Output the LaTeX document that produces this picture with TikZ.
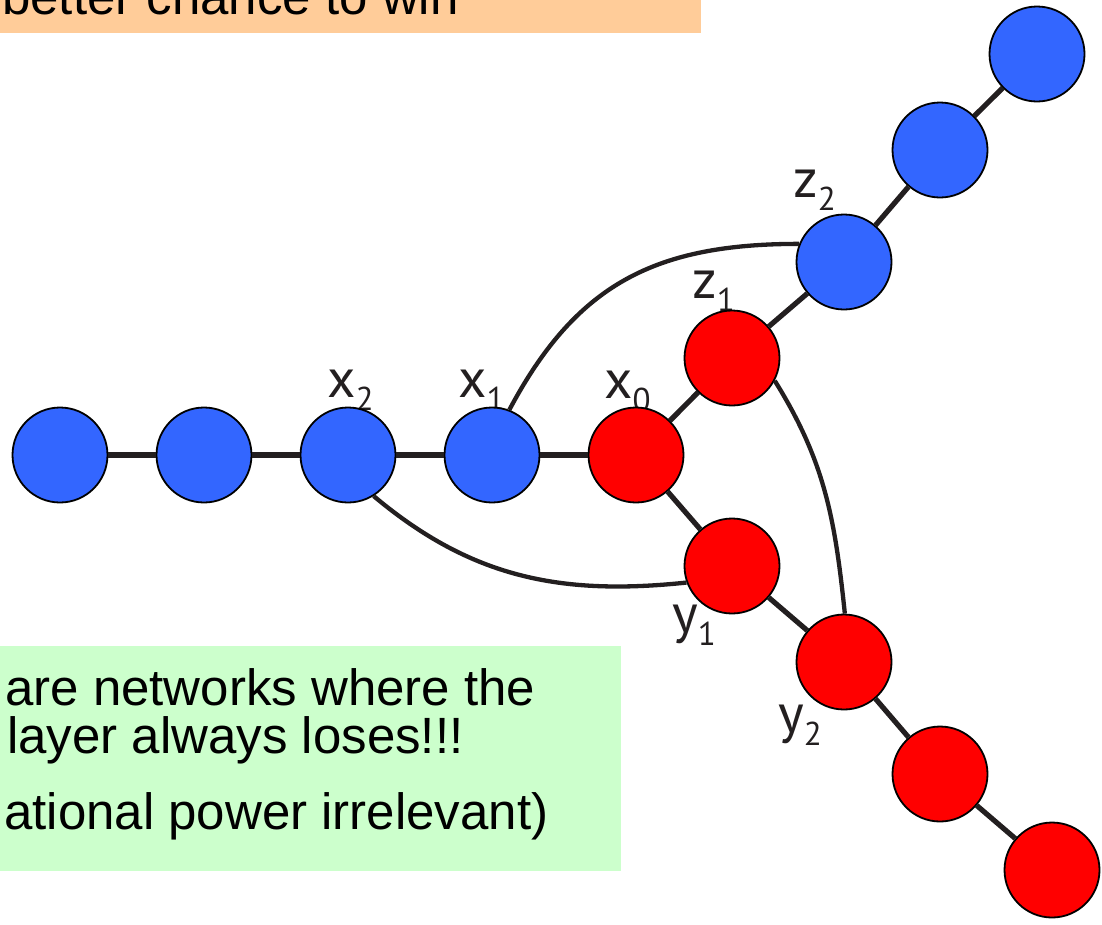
\documentclass[tikz,border=0pt]{standalone}
\usepackage{fontspec}
\setmainfont{Liberation Sans}
\newfontfamily\lblfont{PT Sans}
\definecolor{nblue}{HTML}{3366FF}
\definecolor{nred}{HTML}{FF0000}
\definecolor{lcol}{HTML}{231F20}
\definecolor{boxorange}{HTML}{FFCC99}
\definecolor{boxgreen}{HTML}{CCFFCC}
\newcommand{\sublbl}[2]{#1\lower13pt\hbox{\fontsize{33}{33}\selectfont #2}}
\begin{document}
\begin{tikzpicture}[x=1pt,y=-1pt,
  bnode/.style={circle,draw=black,line width=1.8pt,fill=nblue,minimum size=95pt,inner sep=0pt},
  rnode/.style={bnode,fill=nred},
  edge/.style={line width=5.2pt,draw=lcol},
  arcline/.style={line width=4.3pt,draw=lcol},
  lbl/.style={anchor=base west,inner sep=0pt,text=lcol,font=\lblfont\fontsize{55}{55}\selectfont},
  txt/.style={anchor=base west,inner sep=0pt,font=\fontsize{51}{51}\selectfont}
]
\useasboundingbox (0,0) rectangle (1102,924);
% boxes
\fill[boxorange] (0,0) rectangle (701,33);
\fill[boxgreen] (0,646) rectangle (621,871);
\node[txt] (t0) at (2,14) {better chance to win};
\node[txt] (t1) at (5,705) {are networks where the};
\node[txt] (t2) at (7,753) {layer always loses!!!};
\node[txt] (t3) at (4,829) {ational power irrelevant)};
% labels
\node[lbl] (lx2) at (327,397) {\sublbl{x}{2}};
\node[lbl] (lx1) at (458,397) {\sublbl{x}{1}};
\node[lbl] (lx0) at (604,398) {\sublbl{x}{0}};
\node[lbl] (lz1) at (692,298) {\sublbl{z}{1}};
\node[lbl] (lz2) at (793,197) {\sublbl{z}{2}};
\node[lbl] (ly1) at (672,632) {\sublbl{y}{1}};
\node[lbl] (ly2) at (778,732) {\sublbl{y}{2}};
% nodes
\node[bnode] (a1) at (60,455) {};
\node[bnode] (a2) at (204,455) {};
\node[bnode] (x2) at (348,455) {};
\node[bnode] (x1) at (492,455) {};
\node[rnode] (x0) at (636,455) {};
\node[rnode] (z1) at (732,358) {};
\node[bnode] (z2) at (844,262) {};
\node[bnode] (z3) at (940,150) {};
\node[bnode] (z4) at (1037,54) {};
\node[rnode] (y1) at (732,566) {};
\node[rnode] (y2) at (844,662) {};
\node[rnode] (y3) at (940,774) {};
\node[rnode] (y4) at (1052,870) {};
% edges
\draw[edge] (a1) -- (a2);
\draw[edge] (a2) -- (x2);
\draw[edge] (x2) -- (x1);
\draw[edge] (x1) -- (x0);
\draw[edge] (x0) -- (z1);
\draw[edge] (z1) -- (z2);
\draw[edge] (z2) -- (z3);
\draw[edge] (z3) -- (z4);
\draw[edge] (x0) -- (y1);
\draw[edge] (y1) -- (y2);
\draw[edge] (y2) -- (y3);
\draw[edge] (y3) -- (y4);
% curved connectors
\draw[arcline] (x1.69) to[out=62,in=180,looseness=1.1] (z2.158);
\draw[arcline] (x2.-58) to[out=-40,in=186] (y1.200);
\draw[arcline] (z1.-28) to[out=-58,in=96] (y2.89);
\end{tikzpicture}
\end{document}
